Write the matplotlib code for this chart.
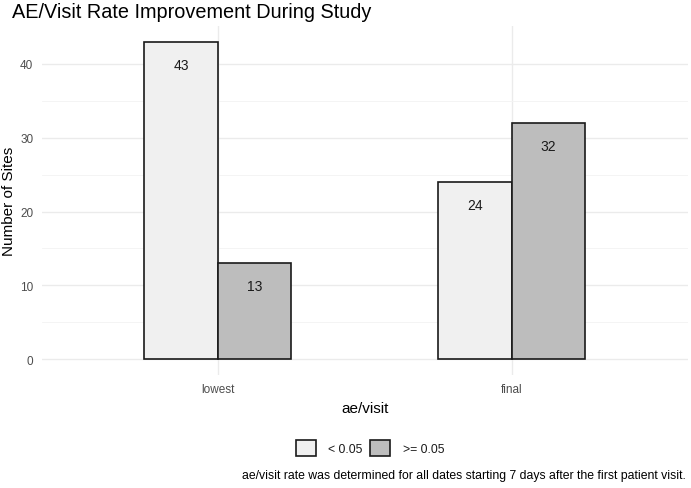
import matplotlib
matplotlib.use("Agg")
import matplotlib.pyplot as plt
import numpy as np

plt.rcParams['font.family'] = ['Liberation Sans', 'DejaVu Sans']

categories = ["lowest", "final"]
groups = ["< 0.05", ">= 0.05"]
values_low = [43, 24]
values_high = [13, 32]
colors = ["#f0f0f0", "#bdbdbd"]

fig = plt.figure(figsize=(6.91, 4.89), dpi=100)
ax = fig.add_axes([41.6/691, 1-376/489, (688-41.6)/691, (376-27)/489])

x = np.arange(1, len(categories)+1)
w = 0.25
series = [values_low, values_high]
for i, vals in enumerate(series):
    offs = (i - 0.5) * w
    ax.bar(x + offs, vals, width=w, color=colors[i], edgecolor="#1a1a1a",
           linewidth=1.2, label=groups[i], zorder=3)
    for xi, v in zip(x + offs, vals):
        ax.annotate(str(v), (xi, v), xytext=(0, -23), textcoords="offset pixels",
                    ha="center", va="center", fontsize=10, color="#1a1a1a", zorder=4)

ymax = max(max(values_low), max(values_high))
ax.set_xlim(0.4, 2.6)
ax.set_ylim(-ymax*0.05, ymax*1.05)
ax.set_xticks(x)
ax.set_xticklabels(categories)
ax.set_yticks([0, 10, 20, 30, 40])
ax.set_yticks([5, 15, 25, 35], minor=True)
ax.grid(True, which="major", color="#ebebeb", linewidth=1.0, zorder=0)
ax.grid(True, which="minor", axis="y", color="#f3f3f3", linewidth=0.6, zorder=0)
ax.tick_params(axis="both", which="both", length=0, labelsize=8.5, labelcolor="#4d4d4d")
ax.tick_params(axis="y", pad=6)
ax.tick_params(axis="x", pad=6)
for s in ax.spines.values():
    s.set_visible(False)

ax.set_xlabel("ae/visit", fontsize=11, color="black", labelpad=4)
fig.text(9/691, 1-201.5/489, "Number of Sites", fontsize=11, rotation=90,
         ha="center", va="center", color="black")

fig.text(12/691, 1-12/489, "AE/Visit Rate Improvement During Study", fontsize=14.3,
         ha="left", va="center", color="black")

leg = fig.legend(loc="center", bbox_to_anchor=(370/691, 1-449/489), ncol=2, frameon=False,
                 fontsize=8.8, handlelength=1.64, handleheight=1.64, columnspacing=0.65,
                 handletextpad=1.0, borderpad=0, borderaxespad=0)
for t in leg.get_texts():
    t.set_color("#1a1a1a")

fig.text(686/691, 1-476/489,
         "ae/visit rate was determined for all dates starting 7 days after the first patient visit.",
         fontsize=8.8, ha="right", va="center", color="black")

fig.savefig("out.png", dpi=100)
